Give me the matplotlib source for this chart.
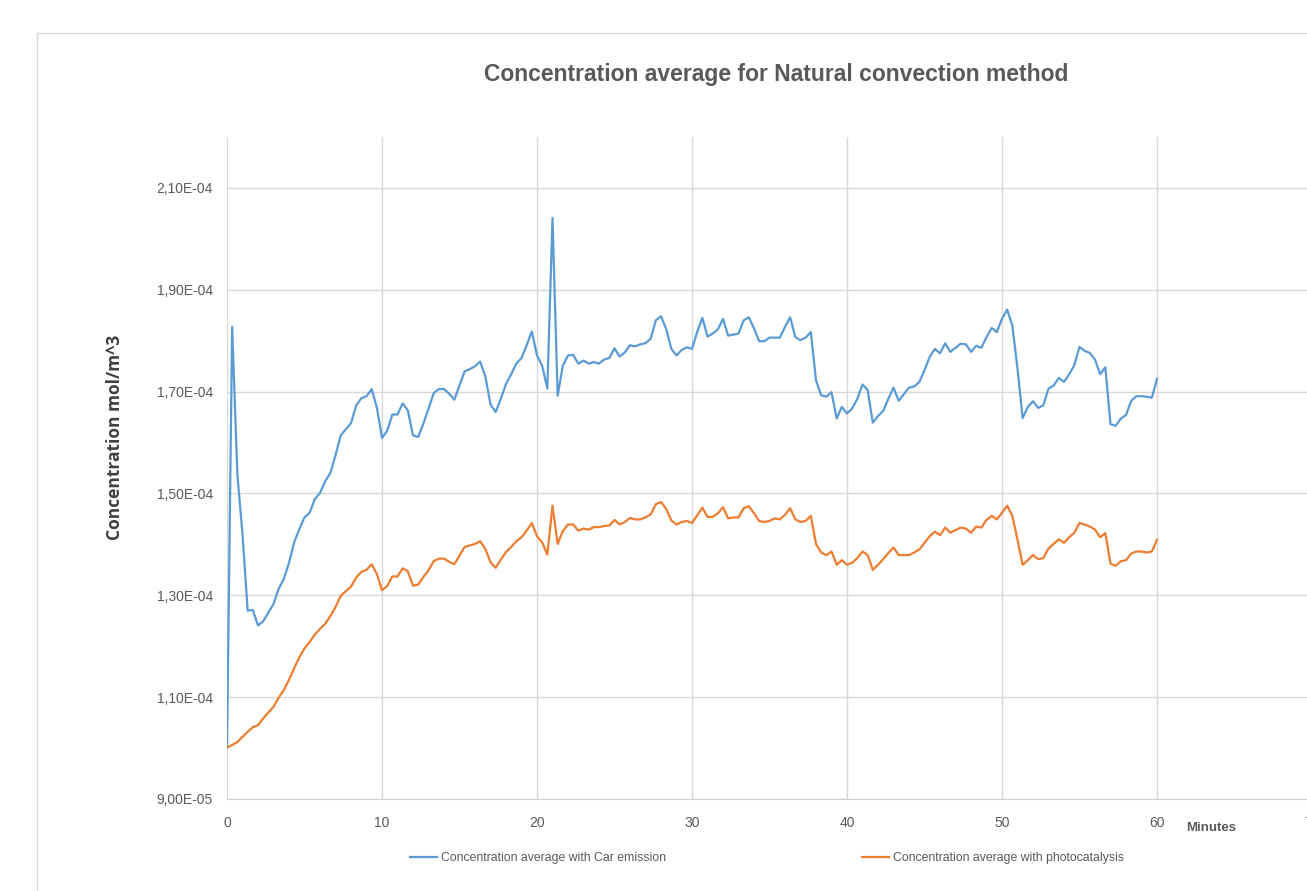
import numpy as np
import matplotlib.pyplot as plt
from matplotlib.patches import Rectangle
from matplotlib.ticker import FuncFormatter

plt.rcParams["font.family"] = ["Liberation Sans", "DejaVu Sans"]

# concentration sampled every 20 s (values in 1e-4 mol/m^3)
car_emission = [
    1.001, 1.827, 1.538, 1.420, 1.270, 1.271, 1.241, 1.249, 1.266, 1.283,
    1.313, 1.332, 1.364, 1.404, 1.430, 1.453, 1.462, 1.489, 1.501, 1.524,
    1.540, 1.575, 1.614, 1.626, 1.638, 1.673, 1.687, 1.691, 1.705, 1.669,
    1.609, 1.623, 1.655, 1.655, 1.677, 1.663, 1.614, 1.611, 1.637, 1.666,
    1.697, 1.705, 1.705, 1.696, 1.684, 1.712, 1.740, 1.744, 1.750, 1.759,
    1.730, 1.675, 1.660, 1.686, 1.715, 1.734, 1.755, 1.766, 1.791, 1.818,
    1.771, 1.751, 1.706, 2.041, 1.692, 1.751, 1.771, 1.772, 1.755, 1.761,
    1.755, 1.758, 1.755, 1.763, 1.766, 1.785, 1.769, 1.777, 1.791, 1.789,
    1.793, 1.795, 1.804, 1.840, 1.848, 1.823, 1.784, 1.771, 1.782, 1.787,
    1.784, 1.817, 1.845, 1.808, 1.814, 1.822, 1.843, 1.810, 1.812, 1.814,
    1.840, 1.846, 1.824, 1.799, 1.799, 1.806, 1.806, 1.806, 1.827, 1.846,
    1.807, 1.801, 1.806, 1.817, 1.722, 1.693, 1.690, 1.699, 1.647, 1.670,
    1.657, 1.667, 1.686, 1.714, 1.703, 1.639, 1.652, 1.662, 1.686, 1.708,
    1.682, 1.695, 1.708, 1.710, 1.719, 1.742, 1.768, 1.784, 1.775, 1.795,
    1.778, 1.786, 1.794, 1.793, 1.778, 1.790, 1.786, 1.807, 1.825, 1.817,
    1.843, 1.861, 1.830, 1.745, 1.648, 1.670, 1.681, 1.668, 1.673, 1.706,
    1.712, 1.727, 1.719, 1.734, 1.752, 1.788, 1.780, 1.776, 1.763, 1.734,
    1.748, 1.636, 1.633, 1.647, 1.654, 1.682, 1.691, 1.691, 1.690, 1.688,
    1.725,
]
photocatalysis = [
    1.001, 1.006, 1.012, 1.022, 1.032, 1.041, 1.045, 1.058, 1.070, 1.081,
    1.099, 1.114, 1.134, 1.157, 1.178, 1.196, 1.208, 1.223, 1.234, 1.244,
    1.259, 1.277, 1.299, 1.308, 1.317, 1.335, 1.346, 1.350, 1.361, 1.342,
    1.310, 1.318, 1.337, 1.337, 1.353, 1.347, 1.319, 1.321, 1.336, 1.349,
    1.367, 1.372, 1.372, 1.366, 1.361, 1.378, 1.395, 1.398, 1.401, 1.406,
    1.391, 1.365, 1.354, 1.370, 1.385, 1.395, 1.406, 1.414, 1.427, 1.442,
    1.416, 1.404, 1.380, 1.476, 1.401, 1.426, 1.439, 1.439, 1.427, 1.431,
    1.429, 1.434, 1.434, 1.436, 1.437, 1.448, 1.439, 1.444, 1.452, 1.449,
    1.449, 1.453, 1.459, 1.479, 1.483, 1.470, 1.447, 1.439, 1.444, 1.446,
    1.442, 1.457, 1.472, 1.454, 1.454, 1.461, 1.473, 1.451, 1.453, 1.453,
    1.471, 1.475, 1.461, 1.446, 1.444, 1.446, 1.451, 1.449, 1.458, 1.471,
    1.449, 1.444, 1.446, 1.456, 1.401, 1.384, 1.379, 1.386, 1.360, 1.369,
    1.360, 1.364, 1.373, 1.386, 1.379, 1.350, 1.360, 1.371, 1.383, 1.394,
    1.379, 1.379, 1.379, 1.384, 1.390, 1.403, 1.416, 1.425, 1.418, 1.433,
    1.423, 1.428, 1.433, 1.431, 1.423, 1.435, 1.433, 1.448, 1.456, 1.449,
    1.462, 1.476, 1.456, 1.409, 1.360, 1.369, 1.379, 1.371, 1.373, 1.392,
    1.401, 1.410, 1.403, 1.414, 1.423, 1.442, 1.439, 1.435, 1.429, 1.414,
    1.422, 1.362, 1.358, 1.367, 1.369, 1.382, 1.386, 1.386, 1.384, 1.386,
    1.409,
]
minutes = np.arange(len(car_emission)) * 20 / 60  # 20 s sampling

x_ticks = [0, 10, 20, 30, 40, 50, 60, 70]
y_ticks = [9e-5, 1.1e-4, 1.3e-4, 1.5e-4, 1.7e-4, 1.9e-4, 2.1e-4]

W, H = 1307, 891
fig = plt.figure(figsize=(W / 100, H / 100), dpi=100)

# chart frame (cropped on the right / bottom)
fig.add_artist(Rectangle((37 / W, -0.1), 1.2, (H - 33) / H + 0.1,
                         transform=fig.transFigure, fill=False,
                         edgecolor="#d9d9d9", linewidth=1))

ax = fig.add_axes([227 / W, (H - 799) / H, (1312 - 227) / W, (799 - 137) / H])
ax.set_zorder(2)
ax.patch.set_alpha(0)

ax.plot(minutes, np.array(car_emission) * 1e-4, color="#5b9bd5", linewidth=1.6,
        label="Concentration average with Car emission")
ax.plot(minutes, np.array(photocatalysis) * 1e-4, color="#ed7d31", linewidth=1.6,
        label="Concentration average with photocatalysis")

ax.set_xlim(0, 70)
ax.set_ylim(9e-5, 2.2e-4)
ax.set_xticks(x_ticks)
ax.set_yticks(y_ticks)
ax.yaxis.set_major_formatter(FuncFormatter(lambda v, p: f"{v:.2E}".replace(".", ",")))
ax.grid(True, color="#d9d9d9", linewidth=1)
ax.set_axisbelow(True)
ax.tick_params(length=0, labelsize=10, labelcolor="#595959", pad=12)
ax.tick_params(axis="y", pad=10)
for s in ["top", "right", "left"]:
    ax.spines[s].set_visible(False)
ax.spines["bottom"].set_color("#d0d0d0")

fig.text(776 / W, 1 - 75 / H, "Concentration average for Natural convection method",
         ha="center", va="center", fontsize=16.5, fontweight="bold", color="#595959")
fig.text(115 / W, 1 - 437 / H, "Concentration mol/m^3", rotation=90,
         ha="center", va="center", fontsize=12.5, fontweight="bold", color="#404040",
         family=["Open Sans", "DejaVu Sans"])
fig.text(1211 / W, 1 - 828 / H, "Minutes", ha="center", va="center",
         fontsize=9.5, fontweight="bold", color="#595959")

fs = 8.8
fig.legend(loc="center left", bbox_to_anchor=(399 / W, 1 - 858 / H), ncol=2,
           frameon=False, fontsize=fs, labelcolor="#595959",
           handlelength=2.2, handletextpad=0.35, columnspacing=16)

fig.savefig("out.png", dpi=100)
